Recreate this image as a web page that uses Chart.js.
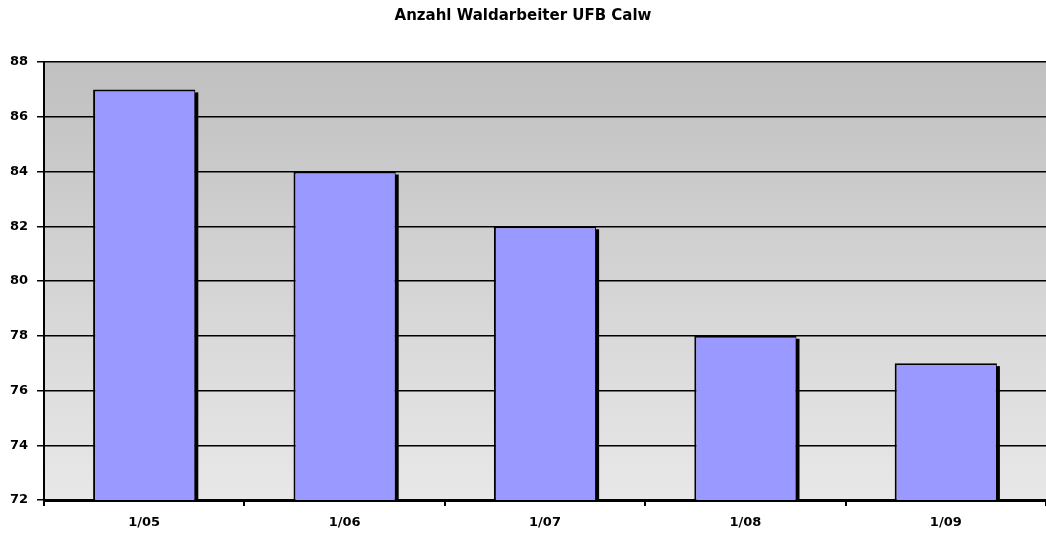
<!DOCTYPE html>
<html>
<head>
<meta charset="utf-8">
<script src="https://cdn.jsdelivr.net/npm/chart.js@4/dist/chart.umd.min.js"></script>
<style>
  html, body { margin: 0; padding: 0; background: #fff; }
  #wrap { width: 1046px; height: 534px; }
</style>
</head>
<body>
<div id="wrap"><canvas id="chart" width="1046" height="534"></canvas></div>
<script>
const titleText = 'Anzahl Waldarbeiter UFB Calw';
const months = ['1/05', '1/06', '1/07', '1/08', '1/09'];
const workers = [87, 84, 82, 78, 77];
const yMin = 72;
const yMax = 88;
const yStep = 2;

// grey gradient behind the plot area
const plotBackground = {
    id: 'plotBackground',
    beforeDraw(chart) {
        const { ctx, chartArea: a } = chart;
        const g = ctx.createLinearGradient(0, a.top, 0, a.bottom);
        g.addColorStop(0, '#c0c0c0');
        g.addColorStop(1, '#e8e8e8');
        ctx.save();
        ctx.fillStyle = g;
        ctx.fillRect(a.left, a.top, a.right - a.left, a.bottom - a.top);
        ctx.restore();
    }
};

// drop shadow to the right of each bar
const barShadow = {
    id: 'barShadow',
    beforeDatasetsDraw(chart) {
        const { ctx, chartArea } = chart;
        const meta = chart.getDatasetMeta(0);
        ctx.save();
        ctx.fillStyle = '#000';
        meta.data.forEach(bar => {
            const right = bar.x + bar.width / 2;
            const bottom = Math.min(bar.base, chartArea.bottom);
            ctx.fillRect(right - 1, bar.y + 3, 4, bottom - bar.y - 3);
        });
        ctx.restore();
    }
};

const tickFont = { family: 'DejaVu Sans, sans-serif', size: 13, weight: 'bold' };

new Chart(document.getElementById('chart').getContext('2d'), {
    type: 'bar',
    data: {
        labels: months,
        datasets: [{
            data: workers,
            backgroundColor: '#9999ff',
            borderColor: '#000',
            borderWidth: { top: 2, left: 2, right: 1, bottom: 0 },
            borderSkipped: false,
            barPercentage: 0.51,
            categoryPercentage: 1
        }]
    },
    options: {
        responsive: false,
        animation: false,
        layout: { padding: 0 },
        plugins: {
            legend: { display: false },
            tooltip: { enabled: false },
            title: {
                display: true,
                text: titleText,
                color: '#000',
                font: { family: 'DejaVu Sans, sans-serif', size: 15, weight: 'bold', lineHeight: 1.2 },
                padding: { top: 7, bottom: 37 }
            }
        },
        scales: {
            x: {
                offset: true,
                grid: {
                    offset: true,
                    drawOnChartArea: false,
                    drawTicks: true,
                    tickLength: 6,
                    color: '#000',
                    lineWidth: 2
                },
                border: { color: '#000', width: 3 },
                ticks: { color: '#000', font: tickFont, padding: 9, maxRotation: 0 },
                afterFit(scale) { scale.height = 34; }
            },
            y: {
                min: yMin,
                max: yMax,
                grid: {
                    color: '#000',
                    lineWidth: 1.5,
                    tickLength: 7
                },
                border: { color: '#000', width: 2 },
                ticks: { stepSize: yStep, color: '#000', font: tickFont, padding: 9 },
                afterFit(scale) { scale.width = 44; }
            }
        }
    },
    plugins: [plotBackground, barShadow]
});
</script>
</body>
</html>
